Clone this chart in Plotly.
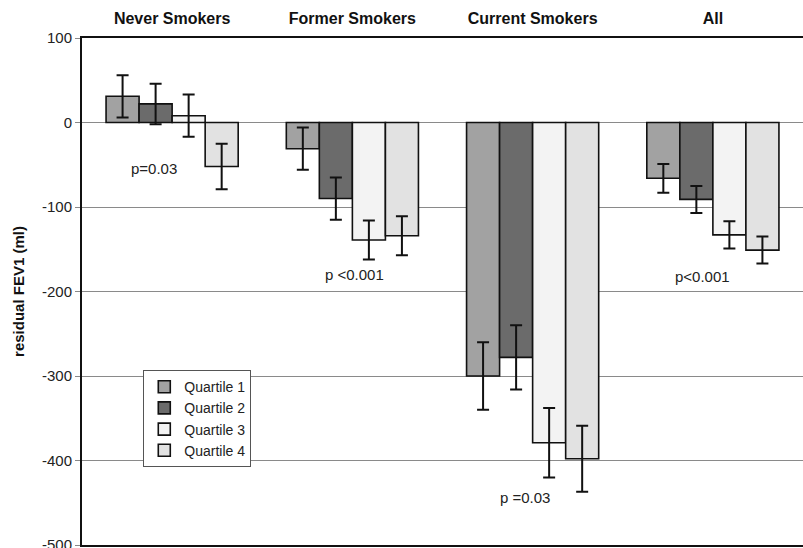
import plotly.graph_objects as go

# Smoking status groups and quartile series
groups = ["Never Smokers", "Former Smokers", "Current Smokers", "All"]
quartiles = ["Quartile 1", "Quartile 2", "Quartile 3", "Quartile 4"]

# Mean residual FEV1 (ml) per group, one list per quartile
q1_values = [31, -31, -300, -66]
q2_values = [22, -90, -278, -91]
q3_values = [8, -139, -379, -133]
q4_values = [-52, -134, -398, -151]

# Half-width of the error bars (ml)
q1_errors = [25, 25, 40, 17]
q2_errors = [24, 25, 38, 16]
q3_errors = [25, 23, 41, 16]
q4_errors = [27, 23, 39, 16]

# Y axis ticks (plain hyphen minus signs)
y_tick_values = [100, 0, -100, -200, -300, -400, -500]
y_tick_labels = ["100", "0", "-100", "-200", "-300", "-400", "-500"]

# p-value labels: text, group, y position (ml)
p_texts = ["p=0.03", "p <0.001", "p =0.03", "p<0.001"]
p_groups = ["Never Smokers", "Former Smokers", "Current Smokers", "All"]
p_y = [-54, -180, -444, -182]

series_values = [q1_values, q2_values, q3_values, q4_values]
series_errors = [q1_errors, q2_errors, q3_errors, q4_errors]
fill_colors = ["#a2a2a2", "#6b6b6b", "#f3f3f3", "#e2e2e2"]

FONT = "Liberation Sans, Arial, sans-serif"

fig = go.Figure()
for name, vals, errs, color in zip(quartiles, series_values, series_errors, fill_colors):
    fig.add_trace(go.Bar(
        name=name,
        x=groups,
        y=vals,
        marker=dict(color=color, line=dict(color="#111111", width=1.6)),
        error_y=dict(type="data", array=errs, visible=True,
                     color="#111111", thickness=2, width=6),
    ))

p_offsets = [-18, 2, -8, -10]
for txt, g, yv, dx in zip(p_texts, p_groups, p_y, p_offsets):
    fig.add_annotation(x=g, y=yv, text=txt, showarrow=False, xshift=dx,
                       font=dict(family=FONT, size=15, color="#222222"))

fig.update_layout(
    width=803, height=548,
    margin=dict(l=82, r=0, t=38, b=3),
    paper_bgcolor="white",
    plot_bgcolor="white",
    barmode="group",
    bargap=0.267,
    bargroupgap=0,
    font=dict(family=FONT, size=15, color="#222222"),
    legend=dict(
        x=0.085, y=0.345, xanchor="left", yanchor="top",
        bgcolor="white", bordercolor="#555555", borderwidth=1,
        font=dict(family=FONT, size=14, color="#222222"),
        itemwidth=30,
    ),
    showlegend=True,
)

fig.update_xaxes(
    side="top", automargin=False,
    showline=True, linecolor="#111111", linewidth=2, mirror=True,
    ticks="", ticklabelstandoff=6,
    tickfont=dict(family=FONT, size=16, color="#111111", weight="bold"),
    showgrid=False,
)

fig.update_yaxes(
    range=[-500, 100], automargin=False,
    tickmode="array", tickvals=y_tick_values, ticktext=y_tick_labels,
    ticklabeloverflow="allow",
    showline=True, linecolor="#111111", linewidth=2,
    ticks="outside", ticklen=5, tickcolor="#888888",
    tickfont=dict(family=FONT, size=15, color="#222222"),
    showgrid=True, gridcolor="#8a8a8a", gridwidth=1,
    zeroline=True, zerolinecolor="#8a8a8a", zerolinewidth=1,
    title=dict(text="residual FEV1 (ml)", standoff=14,
               font=dict(family=FONT, size=15, color="#111111", weight="bold")),
)

fig.write_html("out.html")
